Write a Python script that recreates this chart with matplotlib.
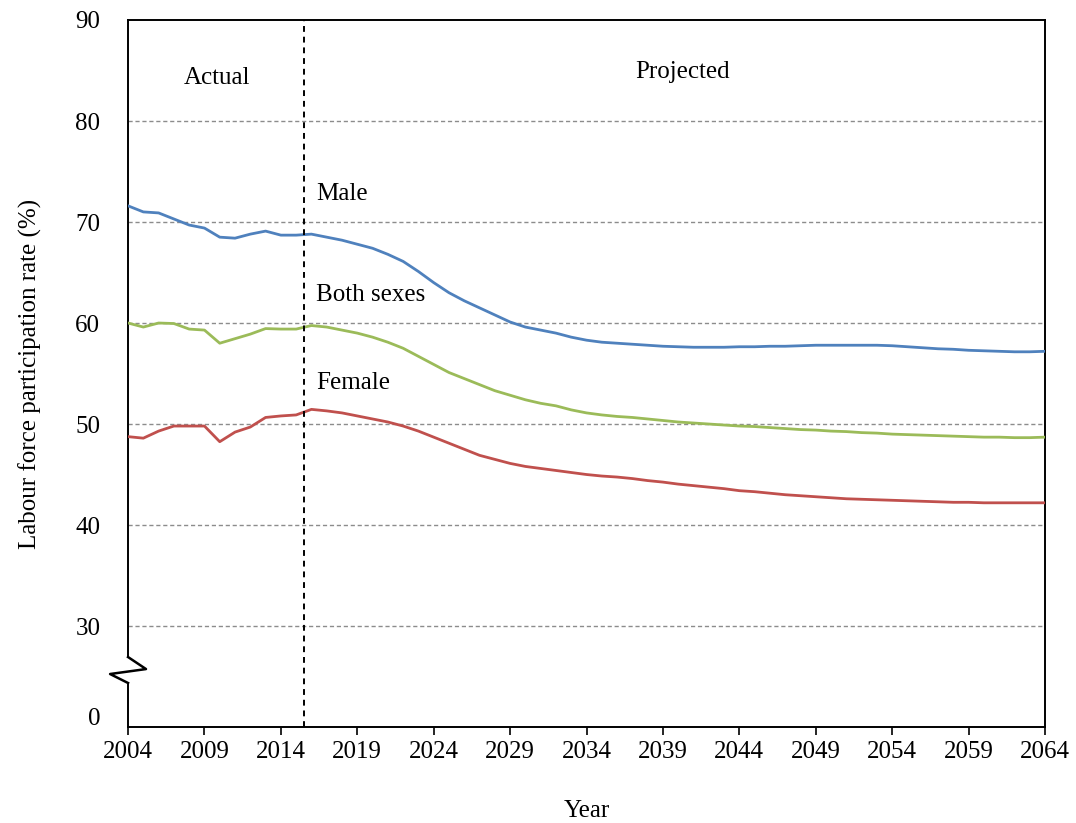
import numpy as np
import matplotlib.pyplot as plt

years = np.arange(2004, 2065)

male = [71.6, 71.0, 70.9, 70.3, 69.7, 69.4, 68.5, 68.4, 68.8, 69.1,
        68.7, 68.7, 68.8, 68.5, 68.2, 67.8, 67.4, 66.8, 66.1, 65.1,
        64.0, 63.0, 62.2, 61.5, 60.8, 60.1, 59.6, 59.3, 59.0, 58.6,
        58.3, 58.1, 58.0, 57.9, 57.8, 57.7, 57.65, 57.6, 57.6, 57.6,
        57.65, 57.65, 57.7, 57.7, 57.75, 57.8, 57.8, 57.8, 57.8, 57.8,
        57.75, 57.65, 57.55, 57.45, 57.4, 57.3, 57.25, 57.2, 57.15, 57.15,
        57.2]

both = [60.0, 59.6, 60.0, 59.95, 59.4, 59.3, 58.0, 58.45, 58.9, 59.45,
        59.4, 59.4, 59.75, 59.6, 59.3, 59.0, 58.6, 58.1, 57.5, 56.7,
        55.9, 55.1, 54.5, 53.9, 53.3, 52.85, 52.4, 52.05, 51.8, 51.4,
        51.1, 50.9, 50.75, 50.65, 50.5, 50.35, 50.2, 50.1, 50.0, 49.9,
        49.8, 49.75, 49.65, 49.55, 49.45, 49.4, 49.3, 49.25, 49.15, 49.1,
        49.0, 48.95, 48.9, 48.85, 48.8, 48.75, 48.7, 48.7, 48.65, 48.65,
        48.7]

female = [48.75, 48.6, 49.3, 49.8, 49.8, 49.8, 48.25, 49.2, 49.7, 50.65,
          50.8, 50.9, 51.45, 51.3, 51.1, 50.8, 50.5, 50.2, 49.8, 49.3,
          48.7, 48.1, 47.5, 46.9, 46.5, 46.1, 45.8, 45.6, 45.4, 45.2,
          45.0, 44.85, 44.75, 44.6, 44.4, 44.25, 44.05, 43.9, 43.75, 43.6,
          43.4, 43.3, 43.15, 43.0, 42.9, 42.8, 42.7, 42.6, 42.55, 42.5,
          42.45, 42.4, 42.35, 42.3, 42.25, 42.25, 42.2, 42.2, 42.2, 42.2,
          42.2]

xtick_years = list(range(2004, 2065, 5))
ytick_vals = [21, 30, 40, 50, 60, 70, 80, 90]
ytick_labels = ['0', '30', '40', '50', '60', '70', '80', '90']

plt.rcParams['font.family'] = ['Liberation Serif', 'DejaVu Serif']

fig = plt.figure(figsize=(10.76, 8.23), dpi=100)
ax = fig.add_axes([0.119, 0.1166, 0.8522, 0.8591])

# grid lines
for v in [30, 40, 50, 60, 70, 80]:
    ax.axhline(v, color='#8c8c8c', lw=1.0, ls=(0, (3, 2)), zorder=1)

ax.plot(years, male, color='#4F81BD', lw=2.0, zorder=3)
ax.plot(years, both, color='#9BBB59', lw=2.0, zorder=3)
ax.plot(years, female, color='#C0504D', lw=2.0, zorder=3)

ax.axvline(2015.5, color='black', lw=1.4, ls=(0, (3, 2.5)), zorder=4)

ax.set_xlim(2004, 2064)
ax.set_ylim(20, 90)
ax.set_xticks(xtick_years)
ax.set_yticks(ytick_vals)
ax.set_yticklabels(ytick_labels)
ax.tick_params(axis='x', direction='out', length=6, width=1.2, labelsize=18, pad=4)
ax.tick_params(axis='y', length=0, labelsize=18, pad=20)

for s in ['top', 'right', 'bottom']:
    ax.spines[s].set_linewidth(1.4)
ax.spines['left'].set_visible(False)

# left axis with break
tr = ax.get_yaxis_transform()
ax.plot([0, 0], [90, 26.93], color='black', lw=1.4, transform=tr, clip_on=False)
ax.plot([0, 0.0196, -0.0196, 0], [26.93, 25.74, 25.25, 24.36],
        color='black', lw=1.8, transform=tr, clip_on=False)
ax.plot([0, 0], [24.36, 20], color='black', lw=1.4, transform=tr, clip_on=False)

ax.text(2009.8, 84.3, 'Actual', fontsize=18, ha='center', va='center')
ax.text(2040.3, 84.85, 'Projected', fontsize=18, ha='center', va='center')
ax.text(2016.3, 72.8, 'Male', fontsize=18, ha='left', va='center')
ax.text(2016.3, 62.8, 'Both sexes', fontsize=18, ha='left', va='center')
ax.text(2016.3, 54.1, 'Female', fontsize=18, ha='left', va='center')

ax.set_xlabel('Year', fontsize=18, labelpad=27)
ax.set_ylabel('Labour force participation rate (%)', fontsize=18, labelpad=24)

fig.savefig('out.png', dpi=100)
